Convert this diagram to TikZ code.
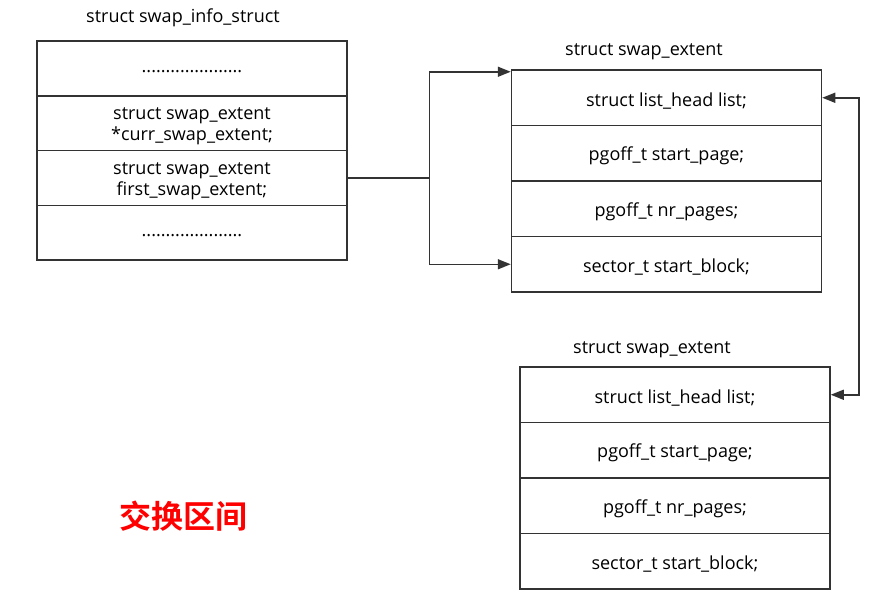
\documentclass[tikz,border=0pt]{standalone}
\usepackage{fontspec}
\setmainfont{Open Sans}
\newfontfamily\cjk{Noto Sans CJK SC Bold}
\usetikzlibrary{arrows.meta}
\definecolor{linegray}{HTML}{333333}
\definecolor{mark red}{HTML}{FF0000}
\tikzset{
  cell/.style={draw=linegray, line width=1.5pt, minimum width=310pt, minimum height=55.5pt,
    inner sep=0pt},
  celltext/.style={align=center, inner sep=0pt, font=\fontsize{18}{21}\selectfont},
  boxtitle/.style={font=\fontsize{18}{21}\selectfont},
  link/.style={draw=linegray, line width=1.5pt, -{Triangle[length=13pt,width=10pt]}},
  duallink/.style={link, {Triangle[length=13pt,width=10pt]}-{Triangle[length=13pt,width=10pt]}}
}

\begin{document}
\begin{tikzpicture}[x=1pt,y=-1pt]
  \useasboundingbox (0,0) rectangle (870,603);

  % swap_info_struct
  \node[boxtitle] (infotitle) at (183,18) {struct swap\_info\_struct};
  \foreach \i/\txt in {1/{.....................},
                       2/{struct swap\_extent\\ *curr\_swap\_extent;},
                       3/{struct swap\_extent\\ first\_swap\_extent;},
                       4/{.....................}}{
    \node[cell, minimum height=54.75pt] (info\i) at (192,13.625+54.75*\i) {};
    \node[celltext] (infotext\i) at ([yshift=-3pt]info\i.center) {\txt};
  }

  % first swap_extent
  \node[boxtitle] (exttitle) at (644,52) {struct swap\_extent};
  % second swap_extent
  \node[boxtitle] (extbtitle) at (652,350) {struct swap\_extent};
  \foreach \i/\txt in {1/{struct list\_head list;},
                       2/{pgoff\_t start\_page;},
                       3/{pgoff\_t nr\_pages;},
                       4/{sector\_t start\_block;}}{
    \node[cell] (ext\i) at (666.5,42.25+55.5*\i) {};
    \node[celltext] (exttext\i) at ([yshift=-3pt]ext\i.center) {\txt};
    \node[cell] (extb\i) at (675,339.25+55.5*\i) {};
    \node[celltext] (extbtext\i) at ([yshift=-3pt]extb\i.center) {\txt};
  }

  % links
  \coordinate (fork) at (429.5,0);
  \coordinate (loopx) at (859,0);
  \coordinate (toptip) at ([yshift=-2.5pt]ext1.north west);
  \draw[link] (info3.east) -- (info3.east -| fork) |- (toptip);
  \draw[link] (info3.east -| fork) |- (ext4.west);
  \draw[duallink] (ext1.east) -- (ext1.east -| loopx) |- (extb1.east);

  \node[text=mark red, font=\cjk\fontsize{32}{36}\selectfont] (area) at (183,516) {交换区间};
\end{tikzpicture}
\end{document}
